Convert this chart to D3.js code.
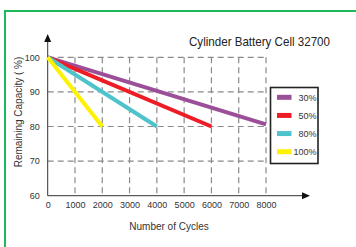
<!DOCTYPE html>
<html>
<head>
<meta charset="utf-8">
<script src="https://cdn.jsdelivr.net/npm/d3@7"></script>
<style>
  body { margin: 0; background: #fff; }
  svg { display: block; font-family: "Liberation Sans", Arial, sans-serif; }
</style>
</head>
<body>
<svg id="chart" width="356" height="247"></svg>
<script>
// chart data
const cycles = [0, 1000, 2000, 3000, 4000, 5000, 6000, 7000, 8000];
const capTicks = [60, 70, 80, 90, 100];
const seriesNames = ['30%', '50%', '80%', '100%'];
const seriesColors = ['#9b4f98', '#ee1c25', '#4fc3cc', '#fff200'];
// [cycles, remaining capacity] for each depth of discharge
const dod30 = [[0, 100], [8000, 80.6]];
const dod50 = [[0, 100], [6000, 80]];
const dod80 = [[0, 100], [4000, 80]];
const dod100 = [[0, 100], [2000, 80]];
const seriesData = [dod30, dod50, dod80, dod100];

const svg = d3.select('#chart');

// green frame
svg.append('rect')
    .attr('x', 5).attr('y', 11)
    .attr('width', 400).attr('height', 300)
    .attr('fill', 'none')
    .attr('stroke', '#1cb95b')
    .attr('stroke-width', 2);

const xScale = d3.scaleLinear().domain([0, 8000]).range([47.7, 266]);
const yScale = d3.scaleLinear().domain([60, 100]).range([195.7, 57.3]);

const grid = svg.append('g')
    .attr('stroke', '#8a8a8a')
    .attr('stroke-width', 1.2)
    .attr('stroke-dasharray', '6,4');

// horizontal dashed grid
grid.selectAll('.hgrid')
    .data(capTicks.filter(d => d > 60))
  .join('line')
    .attr('class', 'hgrid')
    .attr('x1', xScale(0)).attr('x2', xScale(8000))
    .attr('y1', d => yScale(d)).attr('y2', d => yScale(d));

// vertical dashed grid
grid.selectAll('.vgrid')
    .data(cycles.filter(d => d > 0))
  .join('line')
    .attr('class', 'vgrid')
    .attr('x1', d => xScale(d)).attr('x2', d => xScale(d))
    .attr('y1', yScale(100)).attr('y2', yScale(60));

// axes
const xAxis = d3.axisBottom(xScale).tickValues(cycles).tickFormat(d3.format('d')).tickSize(0).tickPadding(6);
const yAxis = d3.axisLeft(yScale).tickValues(capTicks).tickFormat(d3.format('d')).tickSize(0).tickPadding(8);

const xAxisG = svg.append('g')
    .attr('transform', `translate(0,${yScale(60)})`)
    .call(xAxis);
const yAxisG = svg.append('g')
    .attr('transform', `translate(${xScale(0)},0)`)
    .call(yAxis);

[xAxisG, yAxisG].forEach(g => {
  g.select('.domain').remove();
  g.selectAll('text')
      .attr('fill', '#333')
      .style('font-size', '9px')
      .style('font-family', '"Liberation Sans", Arial, sans-serif');
});

// axis lines with arrow heads
const axisCol = '#333';
svg.append('line')
    .attr('x1', xScale(0)).attr('x2', 305)
    .attr('y1', yScale(60)).attr('y2', yScale(60))
    .attr('stroke', axisCol).attr('stroke-width', 1);
svg.append('path')
    .attr('d', `M310,${yScale(60)} L302,${yScale(60) - 3.5} L302,${yScale(60) + 3.5} Z`)
    .attr('fill', '#111');
svg.append('line')
    .attr('x1', xScale(0)).attr('x2', xScale(0))
    .attr('y1', yScale(60)).attr('y2', 40)
    .attr('stroke', axisCol).attr('stroke-width', 1);
svg.append('path')
    .attr('d', `M${xScale(0)},34 L${xScale(0) - 3.5},42 L${xScale(0) + 3.5},42 Z`)
    .attr('fill', '#111');

// series lines
const line = d3.line().x(d => xScale(d[0])).y(d => yScale(d[1]));
svg.selectAll('.series')
    .data(seriesData)
  .join('path')
    .attr('class', 'series')
    .attr('d', line)
    .attr('fill', 'none')
    .attr('stroke', (d, i) => seriesColors[i])
    .attr('stroke-width', 4);

// title (narrow face)
svg.append('text')
    .attr('x', 189).attr('y', 46)
    .attr('textLength', 141)
    .attr('lengthAdjust', 'spacingAndGlyphs')
    .attr('fill', '#222')
    .style('font-size', '13.5px')
    .text('Cylinder Battery Cell 32700');

// axis titles
svg.append('text')
    .attr('x', 169).attr('y', 230)
    .attr('text-anchor', 'middle')
    .attr('fill', '#333')
    .style('font-size', '10px')
    .text('Number of Cycles');

svg.append('text')
    .attr('transform', 'translate(22,112) rotate(-90)')
    .attr('text-anchor', 'middle')
    .attr('fill', '#333')
    .style('font-size', '10px')
    .text('Remaining Capacity ( %)');

// legend
const legend = svg.append('g');
legend.append('rect')
    .attr('x', 270.5).attr('y', 87.5)
    .attr('width', 47.5).attr('height', 76)
    .attr('fill', '#fff')
    .attr('stroke', '#222')
    .attr('stroke-width', 1.6);

const rowY = d3.scalePoint().domain(seriesNames).range([97.3, 151.7]);
legend.selectAll('.swatch')
    .data(seriesNames)
  .join('rect')
    .attr('class', 'swatch')
    .attr('x', 277).attr('y', d => rowY(d) - 2.5)
    .attr('width', 14.5).attr('height', 5)
    .attr('fill', (d, i) => seriesColors[i]);
legend.selectAll('.label')
    .data(seriesNames)
  .join('text')
    .attr('class', 'label')
    .attr('x', 316.5).attr('y', d => rowY(d) + 3.3)
    .attr('text-anchor', 'end')
    .attr('fill', '#333')
    .style('font-size', '9px')
    .text(d => d);
</script>
</body>
</html>
